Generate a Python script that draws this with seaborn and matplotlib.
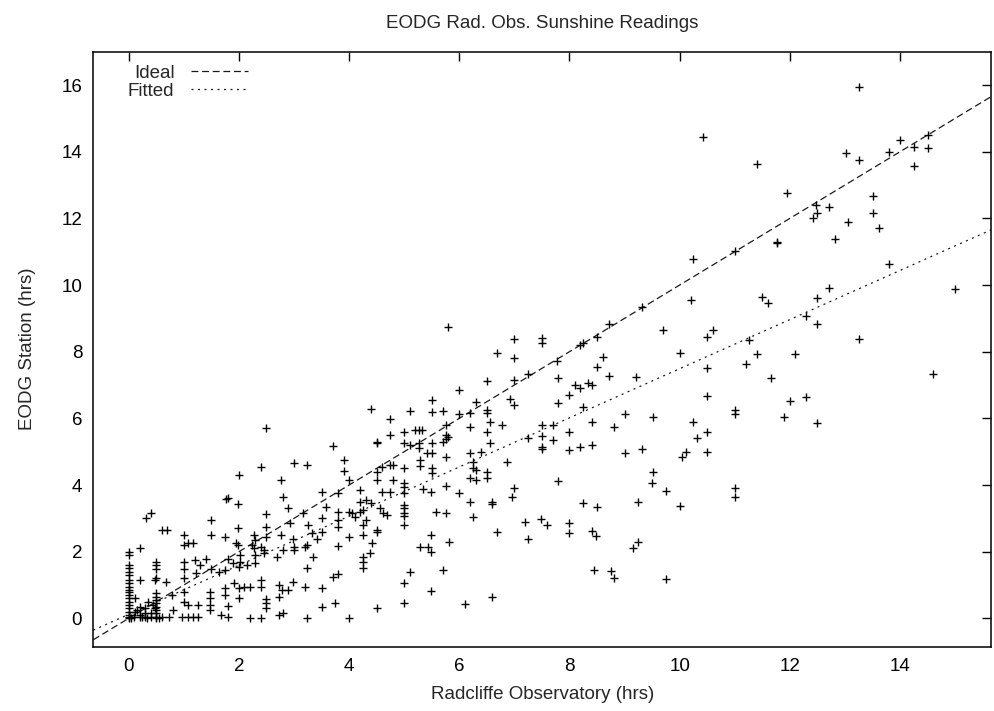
import matplotlib
matplotlib.use("Agg")
import matplotlib.pyplot as plt
import seaborn as sns
import numpy as np
import pandas as pd

# ---------------- data ----------------
radcliffe = [
    # upper right
    13.26, 10.42, 11.41, 14.0, 14.51, 14.26, 14.51, 13.8, 13.01, 13.26, 14.26, 11.95, 13.5,
    12.48, 12.5, 12.42, 12.71, 13.5, 13.06, 13.61,
    11.76, 11.76, 11.0, 12.81, 13.8, 12.71, 11.49, 11.61, 12.5, 12.3, 12.5, 10.61, 10.5,
    11.25, 11.41, 11.2, 12.1, 13.26, 15.0, 14.6, 10.5, 11.66, 10.5, 11.0, 11.0, 12.0, 12.3,
    11.9, 12.5, 10.5,
    10.5, 11.0, 11.0,
    # middle right
    10.25, 10.2, 9.31, 9.7, 8.71, 8.19, 8.25, 8.5, 10.0, 7.0, 7.5, 7.5, 7.0, 7.78, 8.6, 8.5,
    8.71, 9.2, 7.0, 7.25, 7.8, 8.1, 8.19, 8.33, 8.4, 6.92, 7.0, 7.99, 7.8, 8.25, 9.0, 9.51,
    8.4, 10.25, 6.77, 7.5, 7.7, 7.5, 7.5, 7.5, 7.25, 7.7, 7.99, 8.81, 10.31, 7.99, 8.19, 8.4,
    9.0, 9.31, 10.11, 10.05, 6.86, 9.51, 9.5, 7.8,
    6.99, 6.95, 9.75, 9.25, 10.0, 8.25, 8.5, 7.19, 7.49, 7.6, 8.0, 8.0, 8.4, 8.49, 7.25,
    9.25, 9.15, 8.45, 8.75, 8.8, 9.75,
    # middle
    5.8, 6.68, 6.5, 6.0, 6.3, 5.5, 5.5, 5.7, 4.4, 5.1, 4.74, 4.74, 6.0, 6.2, 6.5, 6.5, 6.55,
    6.5, 6.56, 6.2, 5.75, 5.8, 5.75, 5.0, 5.2, 5.26, 5.32, 4.5, 4.5, 5.0, 5.1, 5.26, 5.26,
    5.41, 5.5, 5.5, 5.7, 5.75, 3.7, 3.24, 3.9, 3.9, 4.0, 4.6, 4.74, 4.8, 4.5, 4.5, 5.0, 5.29,
    5.29, 5.5, 5.5, 5.75, 6.2, 6.4, 6.25, 6.25, 6.3, 6.5, 6.2, 6.3, 6.5, 4.8, 5.0,
    3.5, 3.8, 4.2, 4.59, 4.74, 5.0, 5.0, 5.0, 5.0, 5.0, 5.0, 5.0, 5.34, 5.49, 5.75, 6.0, 6.2,
    6.6, 6.6, 6.25, 6.68, 5.58, 5.75, 3.59, 3.17, 3.5, 3.8, 3.8, 3.8, 3.26, 3.32, 3.41, 3.5,
    3.23, 3.2, 4.0, 4.05, 4.1, 4.2, 4.25, 4.3, 4.25, 4.2, 4.3, 4.4, 4.56, 4.62, 4.68, 4.5,
    4.5, 4.0, 4.25, 4.41, 3.8, 4.38, 4.25, 4.25, 4.25, 3.35, 3.24, 3.8, 3.71, 3.2, 3.5, 3.5,
    3.74, 3.24, 4.0, 4.5, 5.0, 5.0, 5.1, 5.49, 5.28, 5.43, 5.49, 5.81, 5.7, 5.49, 6.1, 6.6,
    # left
    2.5, 2.0, 2.41, 2.76, 3.0,
    1.77, 1.8, 1.98, 2.8, 2.89, 2.5, 0.31, 0.4, 1.5, 2.5, 2.93, 0.61, 0.7, 1.99, 1.5, 1.0,
    1.74, 2.27, 2.29, 2.5, 2.98, 2.76, 3.0, 1.0, 1.08, 1.17, 0.2, 1.95, 1.99, 2.24, 2.27,
    2.4, 2.45, 2.45, 2.8, 3.0, 2.7, 1.0, 1.2, 1.41, 1.29, 1.5, 1.0, 1.8, 2.02, 2.02, 1.9,
    2.0, 2.14, 2.29, 2.29, 1.74, 1.64, 0.5, 0.5, 0.5, 0.5, 0.47, 0.2, 0.68, 1.0, 1.23, 1.92,
    1.74, 1.74, 1.47, 1.47, 1.47, 1.47, 2.0, 2.1, 2.2, 2.41, 2.41, 2.5, 2.5, 2.5, 2.73, 2.79,
    2.73, 2.89, 2.98, 2.0, 1.0, 0.79, 0.8, 1.0, 1.08, 1.25, 0.96, 1.08, 1.17, 1.26, 0.74,
    1.8, 1.68, 1.8, 2.2, 2.4, 2.72, 2.8,
    # zero column and dense cluster
    0.0, 0.0, 0.0, 0.0, 0.0, 0.0, 0.0, 0.0, 0.0, 0.0, 0.0, 0.0, 0.0, 0.0, 0.0, 0.0, 0.0, 0.0,
    0.5, 0.5, 0.5, 0.5, 0.5, 0.5, 0.5, 0.5,
    0.12, 0.2, 0.12, 0.2, 0.3, 0.3, 0.3, 0.45, 0.47, 0.4, 0.2, 0.6, 0.1, 0.35, 0.4,
    0.25, 0.55, 0.15, 0.05, 0.33, 0.0, 0.0, 0.5,
]
eodg = [
    15.93, 14.43, 13.63, 14.35, 14.5, 14.15, 14.1, 13.98, 13.95, 13.75, 13.57, 12.75, 12.67,
    12.4, 12.15, 12.0, 12.35, 12.17, 11.88, 11.72,
    11.3, 11.25, 11.03, 11.38, 10.63, 9.92, 9.65, 9.47, 9.6, 9.07, 8.83, 8.66, 8.45,
    8.35, 7.93, 7.63, 7.92, 8.38, 9.87, 7.33, 7.5, 7.2, 6.67, 6.25, 6.12, 6.52, 6.63,
    6.05, 5.87, 5.6,
    5.0, 3.9, 3.63,
    10.77, 9.55, 9.33, 8.65, 8.83, 8.2, 8.25, 8.43, 7.95, 8.37, 8.4, 8.27, 7.8, 7.73, 7.83, 7.53,
    7.27, 7.25, 7.15, 7.33, 7.2, 7.0, 6.92, 7.07, 7.0, 6.57, 6.4, 6.7, 6.47, 6.35, 6.13, 6.05,
    5.9, 5.9, 5.8, 5.8, 5.8, 5.47, 5.13, 5.07, 5.4, 5.35, 5.6, 5.75, 5.4, 5.05, 5.15, 5.2,
    4.95, 5.08, 5.0, 4.85, 4.7, 4.4, 4.07, 4.12,
    3.9, 3.65, 3.83, 3.48, 3.37, 3.47, 3.33, 2.9, 2.97, 2.8, 2.87, 2.57, 2.63, 2.47, 2.38,
    2.3, 2.12, 1.45, 1.43, 1.2, 1.18,
    8.75, 7.95, 7.12, 6.85, 6.48, 6.55, 6.2, 6.23, 6.27, 6.22, 5.97, 5.5, 6.13, 6.15, 6.25, 6.15, 5.9,
    5.6, 5.25, 5.75, 5.8, 5.45, 5.5, 5.6, 5.65, 5.65, 5.65, 5.3, 5.25, 5.27, 5.2, 5.25, 5.1,
    4.96, 4.95, 5.25, 5.3, 5.37, 5.17, 4.6, 4.75, 4.42, 4.15, 4.55, 4.6, 4.6, 4.4, 4.15, 4.52, 4.75,
    4.57, 4.5, 4.35, 4.85, 4.95, 5.0, 4.7, 4.5, 4.45, 4.4, 4.2, 4.15, 4.2, 4.15, 4.05,
    3.8, 3.75, 3.85, 3.8, 3.8, 3.95, 3.75, 3.4, 3.3, 3.15, 3.07, 2.8, 3.87, 3.8, 3.97, 3.75, 3.5,
    3.43, 3.5, 3.05, 2.6, 3.2, 3.15, 3.35, 3.15, 3.0, 3.2, 2.95, 2.75, 2.8, 2.55, 2.37, 2.6,
    2.2, 2.15, 3.2, 3.15, 3.05, 3.2, 3.25, 2.95, 2.8, 3.5, 3.55, 3.45, 3.3, 3.15, 3.1, 2.65,
    2.6, 2.43, 2.5, 2.27, 2.18, 1.95, 1.85, 1.7, 1.5, 1.83, 1.52, 1.33, 1.23, 0.93, 0.9, 0.35,
    0.47, 0.0, 0.02, 0.32, 0.45, 1.05, 1.4, 2.5, 2.15, 2.15, 2.0, 2.28, 1.45, 0.82, 0.42, 0.65,
    5.7, 4.3, 4.53, 4.15, 4.67,
    3.57, 3.6, 3.43, 3.63, 3.32, 3.12, 3.02, 3.17, 2.95, 2.75, 2.85, 2.65, 2.65, 2.72, 2.5, 2.5,
    2.43, 2.5, 2.35, 2.45, 2.37, 2.5, 2.15, 2.2, 2.25, 2.25, 2.1, 2.25, 2.2, 2.2, 2.1,
    2.15, 2.05, 1.95, 2.05, 2.05, 1.83, 1.7, 1.75, 1.79, 1.59, 1.49, 1.49, 1.79, 1.9, 1.7, 1.65,
    1.55, 1.59, 1.89, 1.65, 1.44, 1.4, 1.69, 1.59, 1.49, 1.2, 1.15, 1.15, 1.1, 1.2, 1.35, 1.05,
    0.9, 0.7, 0.8, 0.6, 0.4, 0.25, 0.9, 0.95, 0.95, 1.15, 0.95, 0.58, 0.45, 0.3, 1.0, 0.85,
    0.65, 0.85, 1.1, 0.6, 0.8, 0.7, 0.25, 0.5, 0.4, 0.4, 0.05, 0.05, 0.05, 0.05, 0.05,
    0.37, 0.1, 0.05, 0.0, 0.0, 0.1, 0.15,
    2.0, 1.9, 1.5, 1.4, 1.3, 1.15, 0.95, 0.8, 0.7, 0.6, 0.5, 0.4, 0.3, 0.2, 0.1, 0.05, 0.0, 1.6,
    0.75, 0.65, 0.55, 0.45, 0.35, 0.25, 0.15, 0.05,
    0.6, 0.35, 0.2, 0.1, 0.3, 0.15, 0.05, 0.4, 0.3, 0.05, 0.05, 0.05, 0.05, 0.5, 0.15,
    0.05, 0.0, 0.25, 0.0, 0.0, 1.05, 0.85, 0.0,
]

# reference lines
x_limits = [-0.642, 15.65]
y_limits = [-0.85, 17.0]
fit_slope = 0.737
fit_intercept = 0.12
x_ticks = [0, 2, 4, 6, 8, 10, 12, 14]
y_ticks = [0, 2, 4, 6, 8, 10, 12, 14, 16]

n = min(len(radcliffe), len(eodg))
df = pd.DataFrame({"Radcliffe": radcliffe[:n], "EODG": eodg[:n]})
line_x = np.array(x_limits)
lines = pd.DataFrame({
    "x": np.concatenate([line_x, line_x]),
    "y": np.concatenate([line_x, fit_slope * line_x + fit_intercept]),
    "kind": ["Ideal", "Ideal", "Fitted", "Fitted"],
})

# ---------------- style ----------------
sns.set_theme(style="white")
plt.rcParams["font.family"] = ["Liberation Sans", "DejaVu Sans"]
FS = 13.5

fig = plt.figure(figsize=(9.94, 7.11), dpi=100)
ax = fig.add_axes([93.3 / 994, 1 - 646.7 / 711, (991 - 93.3) / 994, (646.7 - 51.7) / 711])

sns.scatterplot(data=df, x="Radcliffe", y="EODG", marker="+", color="black",
                s=40, linewidth=1.0, ax=ax, legend=False, zorder=3)

sns.lineplot(data=lines, x="x", y="y", hue="kind", style="kind",
             palette={"Ideal": "#1a1a1a", "Fitted": "#1a1a1a"},
             dashes={"Ideal": (5.5, 3.0), "Fitted": (1.6, 3.6)},
             linewidth=0.9, ax=ax, legend=True, zorder=2)

ax.set_xlim(*x_limits)
ax.set_ylim(*y_limits)
ax.set_xticks(x_ticks)
ax.set_yticks(y_ticks)
ax.tick_params(direction="in", length=6.5, width=1.0, top=True, right=True,
               labelsize=FS, colors="black", pad=8)
for sp in ax.spines.values():
    sp.set_visible(True)
    sp.set_color("black")
    sp.set_linewidth(1.1)

ax.set_xlabel("Radcliffe Observatory (hrs)", fontsize=FS, labelpad=8)
ax.set_ylabel("EODG Station (hrs)", fontsize=FS, labelpad=18)
ax.set_title("EODG Rad. Obs. Sunshine Readings", fontsize=FS, pad=17)

leg = ax.legend(loc="upper left", frameon=False, fontsize=FS, markerfirst=False,
                handlelength=3.0, handletextpad=0.9, labelspacing=0.05,
                borderaxespad=0.3, bbox_to_anchor=(0.024, 1.0))
for h in leg.get_lines():
    h.set_linewidth(0.9)

fig.savefig("out.png", dpi=100, facecolor="white")
